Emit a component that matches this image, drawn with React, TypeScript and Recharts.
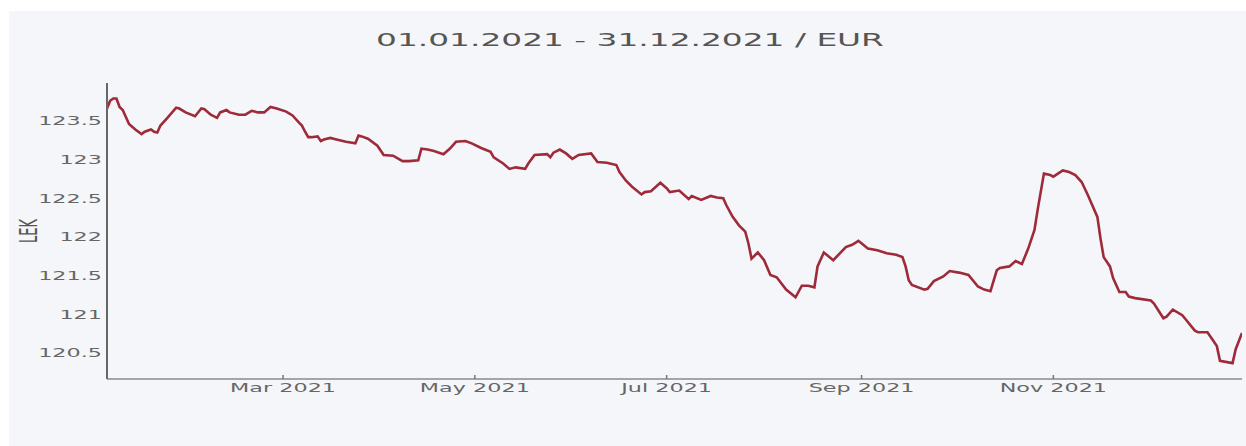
import React from "react";
import { LineChart, Line, XAxis, YAxis } from "recharts";

// EUR / LEK rate, 2021
const dates = [
  "2021-01-04", "2021-01-05", "2021-01-06", "2021-01-07", "2021-01-08", "2021-01-09", "2021-01-10", "2021-01-11", "2021-01-13", "2021-01-15",
  "2021-01-16", "2021-01-18", "2021-01-19", "2021-01-20", "2021-01-21", "2021-01-23", "2021-01-26", "2021-01-27", "2021-01-29", "2021-02-01",
  "2021-02-03", "2021-02-04", "2021-02-06", "2021-02-08", "2021-02-09", "2021-02-11", "2021-02-12", "2021-02-15", "2021-02-17", "2021-02-19",
  "2021-02-21", "2021-02-23", "2021-02-25", "2021-02-27", "2021-03-02", "2021-03-04", "2021-03-06", "2021-03-07", "2021-03-08", "2021-03-09",
  "2021-03-10", "2021-03-12", "2021-03-13", "2021-03-14", "2021-03-16", "2021-03-18", "2021-03-21", "2021-03-24", "2021-03-25", "2021-03-26",
  "2021-03-28", "2021-03-31", "2021-04-02", "2021-04-05", "2021-04-08", "2021-04-10", "2021-04-13", "2021-04-14", "2021-04-16", "2021-04-18",
  "2021-04-21", "2021-04-23", "2021-04-25", "2021-04-28", "2021-04-30", "2021-05-03", "2021-05-06", "2021-05-07", "2021-05-10", "2021-05-12",
  "2021-05-14", "2021-05-17", "2021-05-18", "2021-05-20", "2021-05-24", "2021-05-25", "2021-05-26", "2021-05-28", "2021-05-30", "2021-06-01",
  "2021-06-03", "2021-06-07", "2021-06-09", "2021-06-12", "2021-06-15", "2021-06-16", "2021-06-18", "2021-06-20", "2021-06-23", "2021-06-24",
  "2021-06-26", "2021-06-29", "2021-07-01", "2021-07-02", "2021-07-05", "2021-07-08", "2021-07-09", "2021-07-12", "2021-07-15", "2021-07-17",
  "2021-07-19", "2021-07-20", "2021-07-22", "2021-07-24", "2021-07-26", "2021-07-27", "2021-07-28", "2021-07-30", "2021-08-01", "2021-08-03",
  "2021-08-05", "2021-08-08", "2021-08-11", "2021-08-13", "2021-08-15", "2021-08-17", "2021-08-18", "2021-08-20", "2021-08-23", "2021-08-27",
  "2021-08-29", "2021-08-31", "2021-09-03", "2021-09-06", "2021-09-09", "2021-09-12", "2021-09-14", "2021-09-15", "2021-09-16", "2021-09-17",
  "2021-09-21", "2021-09-22", "2021-09-24", "2021-09-27", "2021-09-29", "2021-10-02", "2021-10-05", "2021-10-08", "2021-10-10", "2021-10-12",
  "2021-10-14", "2021-10-15", "2021-10-18", "2021-10-20", "2021-10-21", "2021-10-22", "2021-10-24", "2021-10-26", "2021-10-27", "2021-10-29",
  "2021-10-31", "2021-11-01", "2021-11-04", "2021-11-06", "2021-11-08", "2021-11-10", "2021-11-12", "2021-11-15", "2021-11-16", "2021-11-17",
  "2021-11-19", "2021-11-20", "2021-11-22", "2021-11-24", "2021-11-25", "2021-11-27", "2021-12-02", "2021-12-03", "2021-12-06", "2021-12-07",
  "2021-12-09", "2021-12-12", "2021-12-13", "2021-12-16", "2021-12-17", "2021-12-20", "2021-12-21", "2021-12-23", "2021-12-24", "2021-12-28",
  "2021-12-29", "2021-12-31",
];

const rates = [
  123.66, 123.76, 123.79, 123.79, 123.68, 123.64, 123.55, 123.46, 123.39, 123.33,
  123.36, 123.39, 123.36, 123.35, 123.44, 123.53, 123.67, 123.66, 123.61, 123.56,
  123.66, 123.65, 123.58, 123.54, 123.61, 123.64, 123.61, 123.58, 123.58, 123.63,
  123.61, 123.61, 123.68, 123.66, 123.62, 123.57, 123.48, 123.44, 123.36, 123.29,
  123.29, 123.30, 123.24, 123.26, 123.28, 123.26, 123.23, 123.21, 123.31, 123.30,
  123.27, 123.18, 123.06, 123.05, 122.98, 122.98, 122.99, 123.14, 123.13, 123.11,
  123.07, 123.14, 123.23, 123.24, 123.21, 123.15, 123.10, 123.03, 122.95, 122.88,
  122.90, 122.88, 122.95, 123.06, 123.07, 123.03, 123.09, 123.13, 123.08, 123.01,
  123.06, 123.08, 122.97, 122.96, 122.93, 122.84, 122.73, 122.65, 122.55, 122.58,
  122.59, 122.70, 122.63, 122.58, 122.60, 122.49, 122.53, 122.48, 122.53, 122.51,
  122.50, 122.41, 122.26, 122.15, 122.07, 121.92, 121.72, 121.80, 121.70, 121.51,
  121.48, 121.32, 121.22, 121.37, 121.37, 121.35, 121.62, 121.80, 121.70, 121.87,
  121.90, 121.95, 121.85, 121.83, 121.79, 121.77, 121.74, 121.62, 121.44, 121.38,
  121.32, 121.33, 121.43, 121.49, 121.56, 121.54, 121.51, 121.36, 121.32, 121.30,
  121.57, 121.60, 121.62, 121.69, 121.67, 121.65, 121.85, 122.09, 122.35, 122.82,
  122.80, 122.78, 122.86, 122.84, 122.80, 122.71, 122.54, 122.26, 121.98, 121.74,
  121.62, 121.47, 121.29, 121.29, 121.23, 121.21, 121.18, 121.14, 120.95, 120.97,
  121.06, 120.99, 120.94, 120.79, 120.77, 120.77, 120.71, 120.59, 120.40, 120.37,
  120.55, 120.76,
];

const xTickDates = ["2021-03-01", "2021-05-01", "2021-07-01", "2021-09-01", "2021-11-01"];
const xTickLabels = ["Mar 2021", "May 2021", "Jul 2021", "Sep 2021", "Nov 2021"];
const yTicks = [120.5, 121, 121.5, 122, 122.5, 123, 123.5];

const title = "01.01.2021 - 31.12.2021 / EUR";
const yTitle = "LEK";

const FONT = "'DejaVu Sans', Verdana, sans-serif";
// the source picture is stretched sideways, so text is widened to match
const STRETCH = 1.86;
const TITLE_STRETCH = 1.93;

const data = dates.map((d, i) => ({ t: Date.parse(d), v: rates[i] }));
const xTicks = xTickDates.map((d) => Date.parse(d));

function XTick({ x, y, payload }) {
  const i = xTicks.indexOf(payload.value);
  return (
    <text
      transform={`translate(${x},${y}) scale(${STRETCH},1)`}
      textAnchor="middle"
      dy="0.36em"
      fontFamily={FONT}
      fontSize={12}
      fill="#666"
    >
      {i >= 0 ? xTickLabels[i] : ""}
    </text>
  );
}

function YTick({ x, y, payload }) {
  return (
    <text
      transform={`translate(${x},${y}) scale(${STRETCH},1)`}
      textAnchor="end"
      dy="0.36em"
      fontFamily={FONT}
      fontSize={12}
      fill="#666"
    >
      {String(payload.value)}
    </text>
  );
}

function YTitle({ viewBox }) {
  const cx = viewBox.x + 19.5;
  const cy = viewBox.y + viewBox.height / 2;
  return (
    <text
      transform={`translate(${cx},${cy}) scale(${STRETCH},1) rotate(-90)`}
      textAnchor="middle"
      dy="0.36em"
      fontFamily={FONT}
      fontSize={13}
      fill="#555"
    >
      {yTitle}
    </text>
  );
}

export default function App() {
  return (
    <div
      style={{
        position: "absolute",
        left: 9,
        top: 11,
        width: 1237,
        height: 435,
        background: "#f5f6f9",
      }}
    >
      <div
        style={{
          position: "absolute",
          left: 0,
          top: 19,
          width: 1242,
          textAlign: "center",
          fontFamily: FONT,
          fontSize: 17,
          lineHeight: "20px",
          color: "#555",
          whiteSpace: "nowrap",
          transform: `scaleX(${TITLE_STRETCH})`,
          transformOrigin: "621px 10px",
        }}
      >
        {title}
      </div>
      <LineChart
        width={1237}
        height={435}
        data={data}
        margin={{ top: 72, right: 4, bottom: 37, left: 0 }}
      >
        <XAxis
          dataKey="t"
          type="number"
          scale="time"
          domain={[data[0].t, data[data.length - 1].t]}
          ticks={xTicks}
          tick={<XTick />}
          height={30}
          tickSize={-4}
          tickMargin={13}
          axisLine={{ stroke: "#8a8a8a", strokeWidth: 1.5 }}
          tickLine={{ stroke: "#777", strokeWidth: 1.5 }}
          allowDataOverflow
        />
        <YAxis
          type="number"
          domain={[120.165, 123.99]}
          ticks={yTicks}
          tick={<YTick />}
          width={98}
          tickSize={0}
          tickMargin={5}
          tickLine={false}
          axisLine={{ stroke: "#666", strokeWidth: 2 }}
          allowDataOverflow
          label={{ content: <YTitle /> }}
        />
        <Line
          type="linear"
          dataKey="v"
          stroke="#9e2a3a"
          strokeWidth={2.6}
          dot={false}
          isAnimationActive={false}
        />
      </LineChart>
    </div>
  );
}
